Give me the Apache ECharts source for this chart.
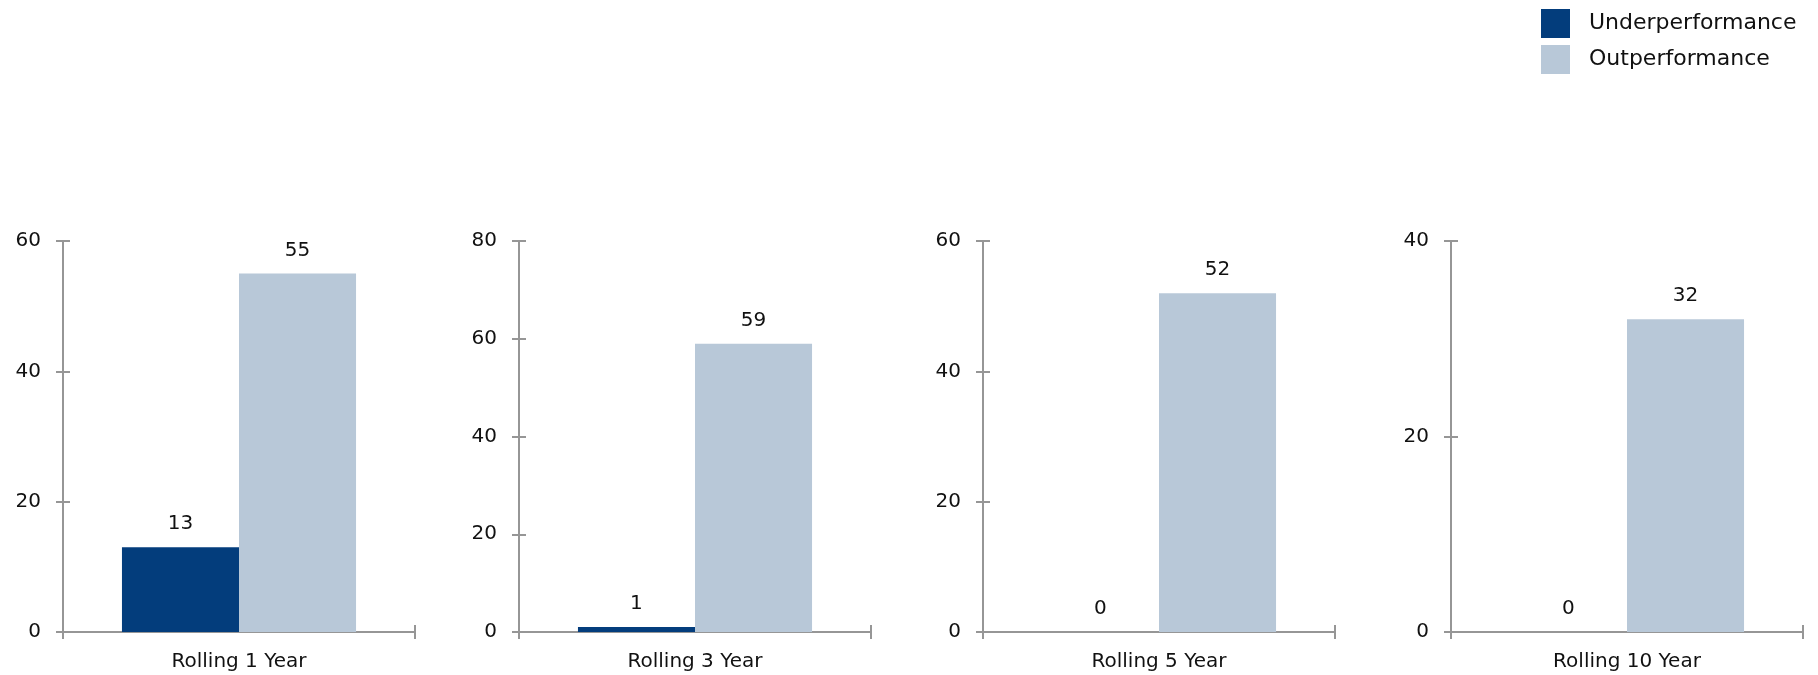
<!DOCTYPE html>
<html>
<head>
<meta charset="utf-8">
<script src="https://cdn.jsdelivr.net/npm/echarts@6/dist/echarts.min.js"></script>
<style>
html,body{margin:0;padding:0;background:#fff;}
#chart{width:1818px;height:675px;}
</style>
</head>
<body>
<div id="chart"></div>
<script>
var categories = ['Rolling 1 Year', 'Rolling 3 Year', 'Rolling 5 Year', 'Rolling 10 Year'];
var underperformance = [13, 1, 0, 0];
var outperformance = [55, 59, 52, 32];
var yMax = [60, 80, 60, 40];
var yInterval = 20;
var seriesNames = ['Underperformance', 'Outperformance'];

var gridLefts = [63, 519, 983, 1451];
var gridWidth = 352;
var gridTop = 241;
var gridHeight = 391;
var axisColor = '#969696';
var textColor = '#111111';
var fontFamily = 'DejaVu Sans';
var colors = ['#033d7c', '#b8c8d8'];

var grids = [], xAxes = [], yAxes = [], series = [];
categories.forEach(function (cat, i) {
  grids.push({left: gridLefts[i], top: gridTop, width: gridWidth, height: gridHeight});
  xAxes.push({
    type: 'category', gridIndex: i, position: 'bottom', data: [cat], boundaryGap: true,
    axisLine: {show: true, lineStyle: {color: axisColor, width: 2}},
    axisTick: {show: true, length: 7, lineStyle: {color: axisColor, width: 2}},
    axisLabel: {show: true, margin: 20, color: textColor, fontSize: 20, fontFamily: fontFamily},
    splitLine: {show: false}
  });
  xAxes.push({
    type: 'category', gridIndex: i, position: 'bottom', offset: 0, data: [cat], boundaryGap: true,
    axisLine: {show: false},
    axisTick: {show: true, inside: true, length: 7, lineStyle: {color: axisColor, width: 2}},
    axisLabel: {show: false},
    splitLine: {show: false}
  });
  yAxes.push({
    type: 'value', gridIndex: i, position: 'left', min: 0, max: yMax[i], interval: yInterval,
    axisLine: {show: true, lineStyle: {color: axisColor, width: 2}},
    axisTick: {show: true, length: 7, lineStyle: {color: axisColor, width: 2}},
    axisLabel: {show: true, margin: 22, color: textColor, fontSize: 20, fontFamily: fontFamily},
    splitLine: {show: false}
  });
  yAxes.push({
    type: 'value', gridIndex: i, position: 'left', offset: 0, min: 0, max: yMax[i], interval: yInterval,
    axisLine: {show: false},
    axisTick: {show: true, inside: true, length: 7, lineStyle: {color: axisColor, width: 2}},
    axisLabel: {show: false},
    splitLine: {show: false}
  });
  var vals = [underperformance[i], outperformance[i]];
  seriesNames.forEach(function (name, s) {
    series.push({
      name: name, type: 'bar',
      xAxisIndex: i * 2, yAxisIndex: i * 2,
      data: [vals[s]],
      itemStyle: {color: colors[s]},
      barGap: '0%', barCategoryGap: '33.5%',
      label: {show: true, position: 'top', distance: 13, color: textColor, fontSize: 20, fontFamily: fontFamily},
      z: 3
    });
  });
});

var chart = echarts.init(document.getElementById('chart'), null, {renderer: 'canvas'});
chart.setOption({
  animation: false,
  backgroundColor: '#ffffff',
  legend: {
    data: seriesNames,
    orient: 'vertical',
    left: 1541, top: 9, padding: 0,
    itemWidth: 29, itemHeight: 29, itemGap: 7,
    icon: 'rect',
    textStyle: {color: textColor, fontSize: 22, fontFamily: fontFamily, padding: [0, 0, 0, 14]}
  },
  grid: grids,
  xAxis: xAxes,
  yAxis: yAxes,
  series: series
});
</script>
</body>
</html>
